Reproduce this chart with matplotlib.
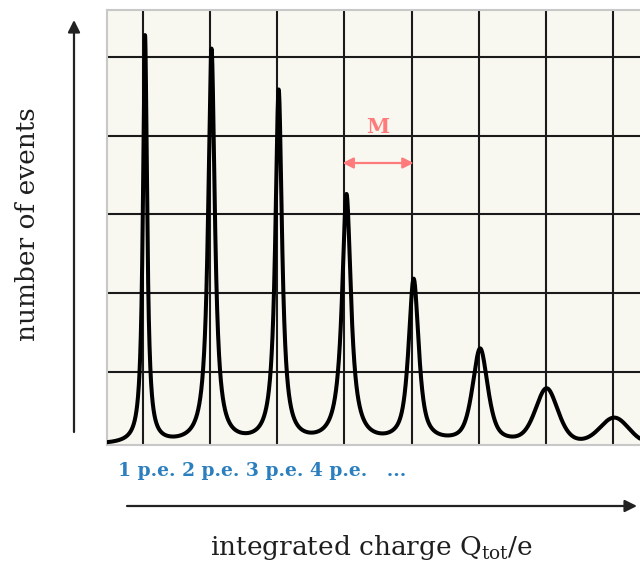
import numpy as np
import matplotlib
matplotlib.use("Agg")
import matplotlib.pyplot as plt
from matplotlib.patches import FancyArrowPatch

# ---- data ----
# photo-electron peak positions (in p.e. units), heights (arbitrary counts),
# full widths at half maximum (p.e. units) and Lorentzian fraction of each peak
peak_pos = [1.03, 2.02, 3.02, 4.03, 5.03, 6.02, 7.01, 8.02]
peak_height = [408, 394, 352, 248, 163, 94, 55, 26]
peak_fwhm = [0.075, 0.12, 0.12, 0.16, 0.18, 0.27, 0.40, 0.50]
peak_lorentz = [1.0, 1.0, 1.0, 1.0, 0.8, 0.6, 0.4, 0.1]
pe_labels = "1 p.e. 2 p.e. 3 p.e. 4 p.e.   ..."
grid_x = [1, 2, 3, 4, 5, 6, 7, 8]
grid_y = [73, 152, 231, 309, 388]
gain_from, gain_to, gain_level = 4, 5, 282

# ---- figure ----
W, H = 640, 565
fig = plt.figure(figsize=(W / 100, H / 100), dpi=100)
ax = fig.add_axes([107 / W, 1 - 445 / H, 533 / W, 435 / H])
ax.set_facecolor("#f8f7f0")
fig.patch.set_facecolor("white")

x = np.linspace(0.46, 8.42, 4000)
y = np.zeros_like(x)
for p, h, fw, eta in zip(peak_pos, peak_height, peak_fwhm, peak_lorentz):
    g = fw / 2.0
    lor = 1.0 / (1.0 + ((x - p) / g) ** 2)
    sig = fw / 2.3548
    gau = np.exp(-0.5 * ((x - p) / sig) ** 2)
    y += h * (eta * lor + (1 - eta) * gau)

for gx in grid_x:
    ax.axvline(gx, color="#1a1a1a", lw=1.5, zorder=1)
for gy in grid_y:
    ax.axhline(gy, color="#1a1a1a", lw=1.5, zorder=1)

ax.plot(x, y, color="black", lw=2.9, zorder=3, solid_capstyle="round")

ax.set_xlim(0.464, 8.40)
ax.set_ylim(0, 435)
ax.set_xticks([])
ax.set_yticks([])
for side in ["left", "top", "bottom"]:
    ax.spines[side].set_color("#c8c8c8")
    ax.spines[side].set_linewidth(1.5)
ax.spines["right"].set_visible(False)

serif = ["DejaVu Serif"]
plt.rcParams["mathtext.fontset"] = "custom"
plt.rcParams["mathtext.rm"] = "DejaVu Serif"

# gain arrow and label
salmon = "#ff7b7b"
ax.annotate("", xy=(gain_from - 0.03, gain_level), xytext=(gain_to + 0.03, gain_level),
            arrowprops=dict(arrowstyle="<|-|>", color=salmon, lw=1.6,
                            mutation_scale=16, shrinkA=0, shrinkB=0), zorder=4)
ax.text((gain_from + gain_to) / 2, gain_level + 36, "M", color=salmon,
        fontsize=15, fontweight="bold", family=serif, ha="center", va="center")

# p.e. labels
fig.text(118 / W, 1 - 471 / H, pe_labels, color="#2b7fbf", fontsize=13.5,
         fontweight="bold", family=serif, ha="left", va="center")

# axis arrows
arrow_kw = dict(arrowstyle="-|>", color="#222222", lw=1.6, mutation_scale=18,
                shrinkA=0, shrinkB=0)
fig.add_artist(FancyArrowPatch((74 / W, 1 - 432 / H), (74 / W, 1 - 20 / H),
                               transform=fig.transFigure, **arrow_kw))
fig.add_artist(FancyArrowPatch((127 / W, 1 - 506 / H), (637 / W, 1 - 506 / H),
                               transform=fig.transFigure, **arrow_kw))

fig.text(28 / W, 1 - 224 / H, "number of events", rotation=90, fontsize=19,
         family=serif, color="#1e1e1e", ha="center", va="center")
fig.text(372 / W, 1 - 547 / H, r"integrated charge Q$_{\rm tot}$/e", fontsize=19,
         family=serif, color="#1e1e1e", ha="center", va="center")

fig.savefig("out.png", dpi=100)
